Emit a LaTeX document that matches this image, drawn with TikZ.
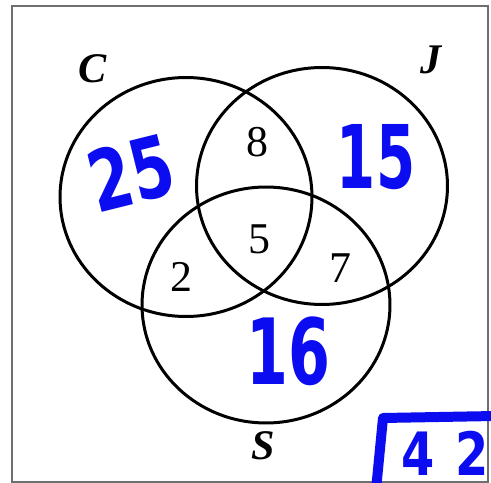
\documentclass[tikz,border=0pt]{standalone}
\usepackage{graphicx,xcolor}
\usepackage{fontspec}
\setmainfont{Liberation Serif}
\newfontfamily\handfont{DejaVu Sans}
\definecolor{penblue}{RGB}{12,12,240}
\definecolor{framegray}{RGB}{110,110,110}
\usetikzlibrary{shapes.geometric}

\tikzset{
  vennset/.style={draw,ellipse,line width=0.06cm,inner sep=0pt},
  setlabel/.style={font=\fontsize{24}{28}\selectfont\bfseries\itshape},
  count/.style={font=\fontsize{25}{30}\selectfont},
  handnum/.style={text=penblue,font=\handfont\bfseries,inner sep=0pt},
}

\begin{document}
\begin{tikzpicture}[x=0.02cm,y=-0.02cm]
  \useasboundingbox (0,0) rectangle (491,483);
  % outer frame
  \draw[framegray,line width=0.04cm] (12,482) -- (12,6) -- (488,6) -- (488,482) -- cycle;
  % the three sets
  \node[vennset,minimum width=5.04cm,minimum height=4.78cm] (setC) at (186,197) {};
  \node[vennset,minimum width=5.02cm,minimum height=4.74cm] (setJ) at (322,186) {};
  \node[vennset,minimum width=4.96cm,minimum height=4.72cm] (setS) at (266,305) {};
  \node[setlabel] (labC) at (93,69) {C};
  \node[setlabel] (labJ) at (431,60) {J};
  \node[setlabel] (labS) at (263,446) {S};
  % printed counts
  \node[count] (nCJ) at (257,142) {8};
  \node[count] (nCJS) at (259,239) {5};
  \node[count] (nCS) at (181,277) {2};
  \node[count] (nJS) at (340,268) {7};
  % handwritten counts
  \node[handnum,rotate=14] (onlyC) at (131,173) {\fontsize{48}{54}\selectfont\scalebox{0.72}[1]{25}};
  \node[handnum] (onlyJ) at (376,157) {\fontsize{50}{56}\selectfont\scalebox{0.64}[1]{15}};
  \node[handnum] (onlyS) at (288,351) {\fontsize{52}{58}\selectfont\scalebox{0.66}[1]{16}};
  % total, boxed
  \draw[penblue,line width=0.2cm,line cap=round,line join=round] (376,490) -- (383,418) -- (495,416);
  \node[handnum,anchor=west] (total) at (401,453) {\fontsize{34}{40}\selectfont\scalebox{0.8}[1]{4}\kern0.42cm\scalebox{0.8}[1]{2}};
\end{tikzpicture}
\end{document}
